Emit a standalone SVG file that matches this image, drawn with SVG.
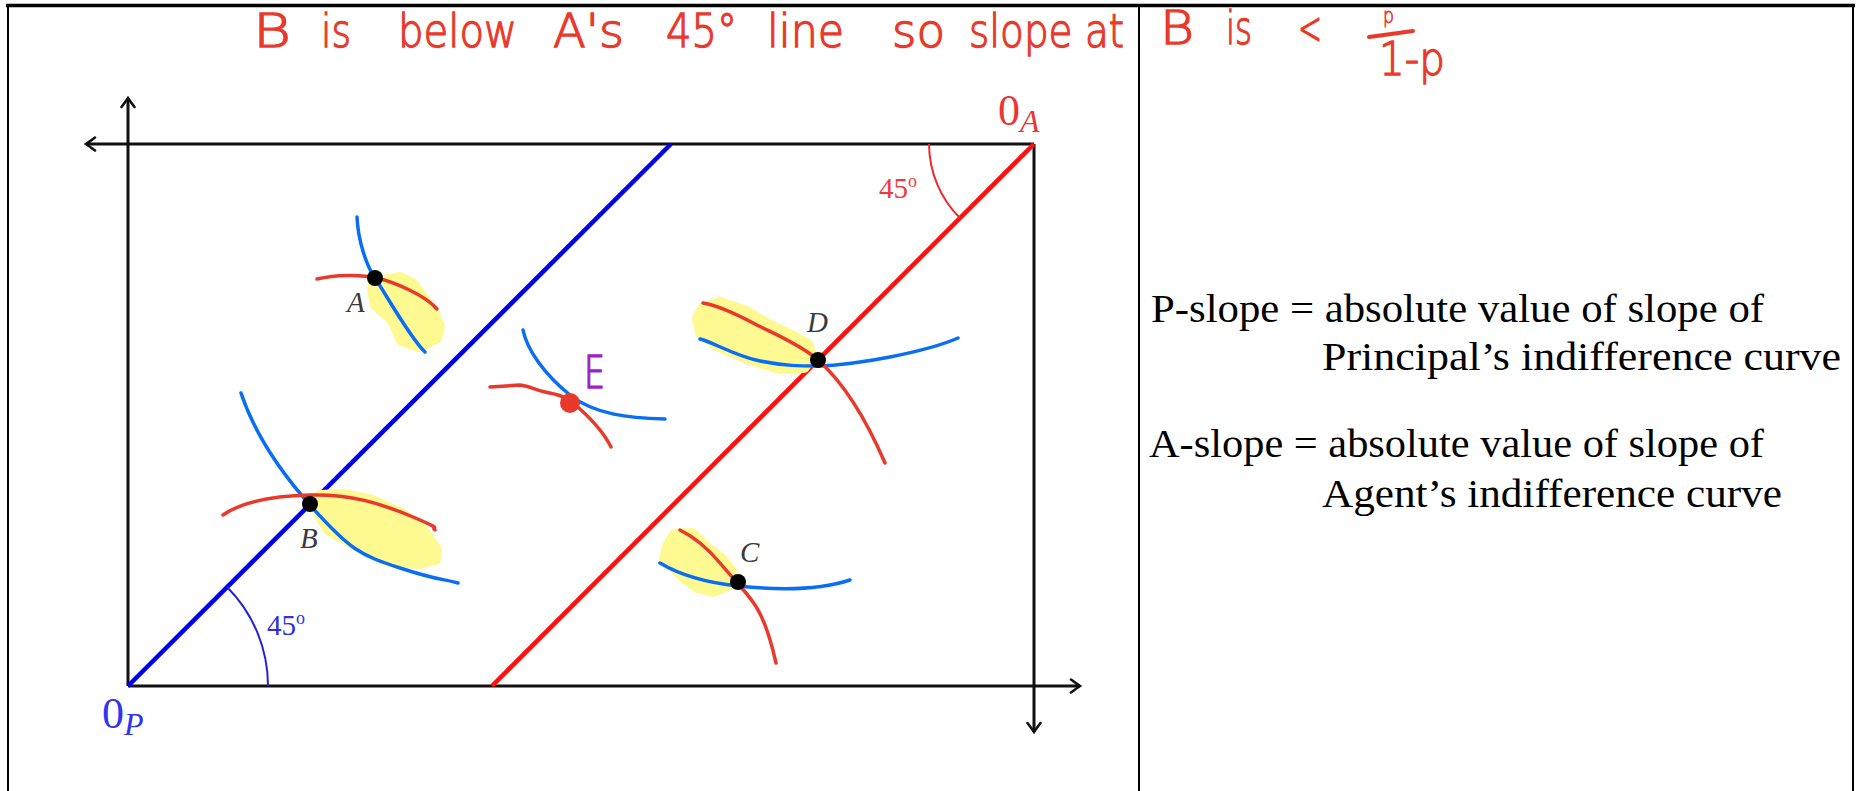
<svg xmlns="http://www.w3.org/2000/svg" width="1864" height="791" viewBox="0 0 1864 791">
<style>
.frame{stroke:#000;fill:none}
.axis{stroke:#111;stroke-width:3;fill:none}
.hl{fill:#fff991;stroke:#fff991;stroke-width:12;stroke-linejoin:round}
.pb{stroke:#0a6ef5;stroke-width:3.5;fill:none;stroke-linecap:round;stroke-linejoin:round}
.pr{stroke:#e8392b;stroke-width:3.5;fill:none;stroke-linecap:round;stroke-linejoin:round}
.lbl{font-family:"Liberation Serif",serif;font-style:italic;font-size:29px;fill:#3a3a3a}
.hw{font-family:"DejaVu Sans","Liberation Sans",sans-serif;font-weight:200;font-size:46px;fill:#e8392b;stroke:#e8392b;stroke-width:1.3}
.txt{font-family:"Liberation Serif",serif;font-size:40px;fill:#000}
.deg{font-family:"Liberation Serif",serif;font-size:29px}
</style>
<defs>
<marker id="arr" viewBox="-12 -8 14 16" markerWidth="14" markerHeight="16" refX="0" refY="0" orient="auto" markerUnits="userSpaceOnUse">
<path d="M-9,-6.5 Q-3,-2 0,0 Q-3,2 -9,6.5" stroke="#111" stroke-width="2.6" fill="none" stroke-linecap="round"/>
</marker>
</defs>
<rect width="1864" height="791" fill="#fff"/>

<g id="frame">
<line class="frame" x1="6" y1="5.5" x2="1855" y2="5.5" stroke-width="3.5"/>
<line class="frame" x1="8" y1="5" x2="8" y2="791" stroke-width="2"/>
<line class="frame" x1="1139" y1="5" x2="1139" y2="791" stroke-width="2"/>
<line class="frame" x1="1853" y1="5" x2="1853" y2="791" stroke-width="2"/>
</g>

<g id="header">
<text class="hw" x="253" y="47" textLength="38" lengthAdjust="spacingAndGlyphs">B</text>
<text class="hw" x="321" y="47" textLength="30" lengthAdjust="spacingAndGlyphs">is</text>
<text class="hw" x="398" y="47" textLength="119" lengthAdjust="spacingAndGlyphs">below</text>
<text class="hw" x="553" y="47" textLength="71" lengthAdjust="spacingAndGlyphs">A's</text>
<text class="hw" x="666" y="47" textLength="71" lengthAdjust="spacingAndGlyphs">45°</text>
<text class="hw" x="767" y="47" textLength="77" lengthAdjust="spacingAndGlyphs">line</text>
<text class="hw" x="892" y="47" textLength="53" lengthAdjust="spacingAndGlyphs">so</text>
<text class="hw" x="969" y="47" textLength="155" lengthAdjust="spacingAndGlyphs">slope at</text>
<text class="hw" x="1160" y="44" textLength="34" lengthAdjust="spacingAndGlyphs">B</text>
<text class="hw" x="1226" y="44" textLength="26" lengthAdjust="spacingAndGlyphs">is</text>
<text class="hw" x="1298" y="44" textLength="24" lengthAdjust="spacingAndGlyphs">&lt;</text>
<text class="hw" x="1383" y="23" style="font-size:22px;stroke-width:0.8px" textLength="11" lengthAdjust="spacingAndGlyphs">p</text>
<line x1="1369" y1="37" x2="1413" y2="31" stroke="#e8392b" stroke-width="4" stroke-linecap="round"/>
<text class="hw" x="1379" y="75" textLength="66" lengthAdjust="spacingAndGlyphs">1-p</text>
</g>

<g id="axes">
<line class="axis" x1="1034" y1="144" x2="86" y2="144" marker-end="url(#arr)"/>
<line class="axis" x1="128" y1="686" x2="128" y2="98" marker-end="url(#arr)"/>
<line class="axis" x1="128" y1="686" x2="1080" y2="686" marker-end="url(#arr)"/>
<line class="axis" x1="1034" y1="144" x2="1034" y2="732" marker-end="url(#arr)"/>
</g>

<g id="diagonals">
<line x1="128" y1="686" x2="671" y2="144" stroke="#0000ee" stroke-width="4.5"/>
<line x1="492" y1="686" x2="1034" y2="144" stroke="#ff1010" stroke-width="4.5"/>
<path d="M 227 587 A 140 140 0 0 1 268 686" stroke="#2222dd" stroke-width="2" fill="none"/>
<path d="M 929 144 A 105 105 0 0 0 960 218" stroke="#ee2a2a" stroke-width="2" fill="none"/>
<text class="deg" x="267" y="635" fill="#3030e0">45<tspan font-size="18" dy="-11">o</tspan></text>
<text class="deg" x="879" y="198" fill="#f03a3a">45<tspan font-size="18" dy="-11">o</tspan></text>
<text x="102" y="728" font-family="Liberation Serif,serif" font-size="44" fill="#3333ee">0<tspan font-size="32" font-style="italic" dy="7">P</tspan></text>
<text x="998" y="125" font-family="Liberation Serif,serif" font-size="44" fill="#ee3333">0<tspan font-size="32" font-style="italic" dy="7">A</tspan></text>
</g>

<g id="highlights">
<polygon class="hl" points="374,283 400,278 412,284 425,301 434,315 439,327 436,338 419,346 402,340 392,319 376,305 373,291"/>
<polygon class="hl" points="703,309 720,303 746,312 766,324 789,335 807,344 811,356 804,367 780,368 747,358 715,344 701,332 698,318"/>
<polygon class="hl" points="320,496 343,495 372,501 401,514 418,525 428,538 436,550 435,559 419,563 388,561 372,553 348,540 329,530 320,515"/>
<polygon class="hl" points="675,535 692,534 704,546 721,559 731,571 730,584 713,591 698,587 685,578 665,559 668,547"/>
</g>

<g id="curve-A">
<path class="pb" d="M357 217 C 358 240 366 265 375 278 S 410 338 425 352"/>
<path class="pr" d="M317 279 C 335 275 360 274 377 278 S 425 295 437 309"/>
<circle cx="375" cy="278" r="8" fill="#000"/>
<text class="lbl" x="347" y="312">A</text>
</g>

<g id="curve-D">
<path class="pb" d="M700 339 C 715 343 735 356 760 361 S 800 366 818 366 S 870 361 890 357 S 940 346 958 338"/>
<path class="pr" d="M703 303 C 720 306 740 316 755 324 S 800 344 818 360 S 860 405 885 463"/>
<circle cx="818" cy="360" r="8" fill="#000"/>
<text class="lbl" x="807" y="332">D</text>
</g>

<g id="curve-E">
<path class="pb" d="M523 330 C 527 350 545 375 570 395 S 630 418 665 419"/>
<path class="pr" d="M490 387 L 520 385 C 530 386 535 390 545 392 S 565 396 572 402 S 600 425 611 447"/>
<circle cx="570" cy="403" r="10" fill="#e8392b"/>
<text x="584" y="388" font-family="DejaVu Sans,Liberation Sans,sans-serif" font-weight="200" font-size="44" fill="#a01fc8" stroke="#a01fc8" stroke-width="1.5" textLength="21" lengthAdjust="spacingAndGlyphs">E</text>
</g>

<g id="curve-B">
<path class="pb" d="M241 393 C 250 420 270 460 310 505 S 360 555 400 568 S 440 578 458 583"/>
<path class="pr" d="M223 515 C 240 503 270 496 310 495 S 380 503 413 517 S 430 526 435 530"/>
<circle cx="310" cy="504" r="8" fill="#000"/>
<text class="lbl" x="300" y="548">B</text>
</g>

<g id="curve-C">
<path class="pb" d="M660 563 C 675 572 700 582 738 586 S 820 590 850 580"/>
<path class="pr" d="M680 530 C 690 535 705 545 720 563 S 745 590 755 605 S 772 645 776 663"/>
<circle cx="738" cy="582" r="8" fill="#000"/>
<text class="lbl" x="740" y="562">C</text>
</g>

<g id="definitions">
<text class="txt" x="1151" y="322" textLength="613" lengthAdjust="spacingAndGlyphs">P-slope = absolute value of slope of</text>
<text class="txt" x="1322" y="370" textLength="519" lengthAdjust="spacingAndGlyphs">Principal’s indifference curve</text>
<text class="txt" x="1149" y="457" textLength="615" lengthAdjust="spacingAndGlyphs">A-slope = absolute value of slope of</text>
<text class="txt" x="1322" y="507" textLength="460" lengthAdjust="spacingAndGlyphs">Agent’s indifference curve</text>
</g>
</svg>
